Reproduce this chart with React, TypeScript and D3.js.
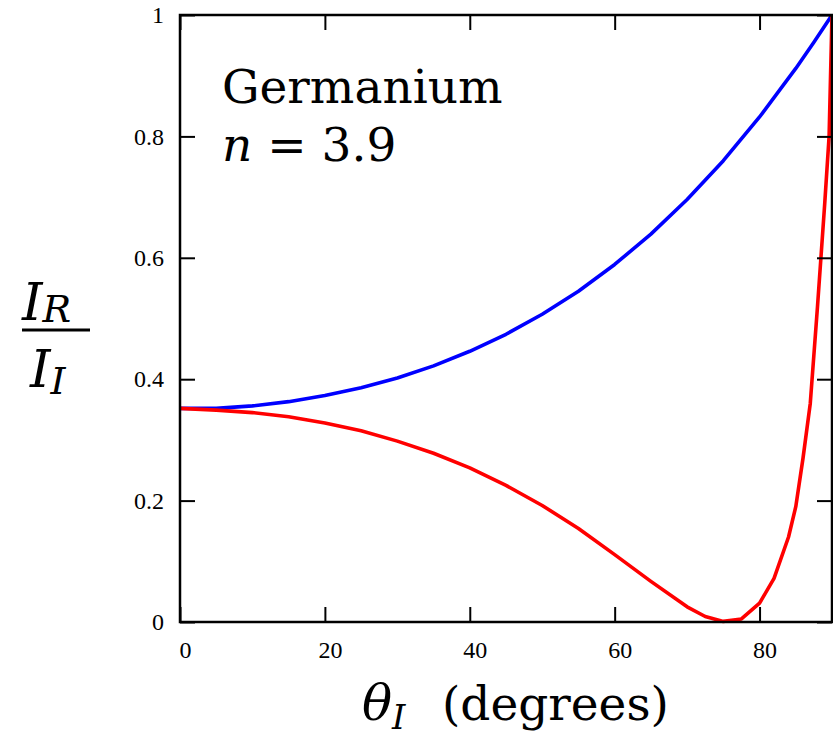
import React, { useRef, useEffect } from 'react';
import * as d3 from 'd3';

// s-polarised reflectance (blue)
const blueAngles = [0, 5, 10, 15, 20, 25, 30, 35, 40, 45, 50, 55, 60, 65, 70, 75, 80, 85, 87.5, 90];
const blueValues = [0.352, 0.352, 0.356, 0.363, 0.373, 0.386, 0.402, 0.422, 0.446, 0.474, 0.507, 0.545, 0.589, 0.639, 0.696, 0.76, 0.832, 0.912, 0.955, 1.0];

// p-polarised reflectance (red)
const redAngles = [0, 5, 10, 15, 20, 25, 30, 35, 40, 45, 50, 55, 60, 65, 70, 72.5, 75, 77.5, 80, 82, 84, 85, 86, 87, 88, 89, 89.6, 90];
const redValues = [0.352, 0.349, 0.345, 0.338, 0.328, 0.315, 0.298, 0.278, 0.254, 0.225, 0.192, 0.154, 0.111, 0.067, 0.025, 0.009, 0.001, 0.005, 0.031, 0.072, 0.14, 0.19, 0.27, 0.36, 0.52, 0.69, 0.8, 1.0];

const xTicks = [0, 20, 40, 60, 80];
const yTicks = [0, 0.2, 0.4, 0.6, 0.8, 1];

const FONT = 'DejaVu Serif';
const TICK_FONT = 'Liberation Serif';

const App = () => {
  const chartRef = useRef(null);

  useEffect(() => {
    const left = 180;
    const right = 832;
    const top = 15;
    const bottom = 622;

    const svg = d3.select(chartRef.current);
    svg.selectAll('*').remove();

    const x = d3.scaleLinear().domain([0, 90]).range([left, right]);
    const y = d3.scaleLinear().domain([0, 1]).range([bottom, top]);

    // curves
    const line = d3.line<[number, number]>()
      .x(d => x(d[0]))
      .y(d => y(d[1]));

    const series = [
      { angles: blueAngles, values: blueValues, color: '#0000ff' },
      { angles: redAngles, values: redValues, color: '#ff0000' },
    ];
    series.forEach(s => {
      svg.append('path')
        .datum(s.angles.map((a, i) => [a, s.values[i]] as [number, number]))
        .attr('d', line)
        .attr('fill', 'none')
        .attr('stroke', s.color)
        .attr('stroke-width', 3.6)
        .attr('stroke-linejoin', 'round');
    });

    // inward ticks on all four sides
    const bottomAxis = svg.append('g')
      .attr('transform', `translate(0,${bottom})`)
      .call(d3.axisBottom(x).tickValues(xTicks).tickSize(-15).tickPadding(19).tickFormat(d3.format('d')));
    bottomAxis.selectAll('text').attr('dx', 5);

    svg.append('g')
      .attr('transform', `translate(0,${top})`)
      .call(d3.axisTop(x).tickValues(xTicks).tickSize(-15).tickFormat(() => ''));

    svg.append('g')
      .attr('transform', `translate(${left},0)`)
      .call(d3.axisLeft(y).tickValues(yTicks).tickSize(-15).tickPadding(16).tickFormat(d => `${d}`));

    svg.append('g')
      .attr('transform', `translate(${right},0)`)
      .call(d3.axisRight(y).tickValues(yTicks).tickSize(-15).tickFormat(() => ''));

    svg.selectAll('.domain').remove();
    svg.selectAll('.tick line').attr('stroke', '#000').attr('stroke-width', 2);
    svg.selectAll('.tick text')
      .attr('fill', '#000')
      .attr('font-family', TICK_FONT)
      .attr('font-size', 24);

    // frame
    svg.append('rect')
      .attr('x', left)
      .attr('y', top)
      .attr('width', right - left)
      .attr('height', bottom - top)
      .attr('fill', 'none')
      .attr('stroke', '#000')
      .attr('stroke-width', 2.5);

    // annotation
    svg.append('text')
      .attr('x', 222)
      .attr('y', 103)
      .style('font-family', FONT)
      .style('font-size', '47px')
      .text('Germanium');

    const nText = svg.append('text')
      .attr('x', 222)
      .attr('y', 161)
      .style('font-family', FONT)
      .style('font-size', '47px');
    nText.append('tspan').style('font-style', 'italic').text('n');
    nText.append('tspan').text(' = 3.9');

    // y label as a fraction
    const num = svg.append('text')
      .attr('x', 22)
      .attr('y', 320)
      .style('font-family', FONT)
      .style('font-size', '52px')
      .style('font-style', 'italic');
    num.append('tspan').text('I');
    num.append('tspan').attr('dy', 2).style('font-size', '38px').text('R');

    svg.append('line')
      .attr('x1', 22)
      .attr('x2', 90)
      .attr('y1', 330)
      .attr('y2', 330)
      .attr('stroke', '#000')
      .attr('stroke-width', 3);

    const den = svg.append('text')
      .attr('x', 30)
      .attr('y', 387)
      .style('font-family', FONT)
      .style('font-size', '52px')
      .style('font-style', 'italic');
    den.append('tspan').text('I');
    den.append('tspan').attr('dy', 7).style('font-size', '38px').text('I');

    // x label
    const xl = svg.append('text')
      .attr('x', 362)
      .attr('y', 720)
      .style('font-family', FONT)
      .style('font-size', '50px');
    xl.append('tspan').style('font-style', 'italic').text('θ');
    xl.append('tspan').attr('dy', 9).style('font-style', 'italic').style('font-size', '34px').text('I');
    xl.append('tspan').attr('x', 442).attr('dy', -9).style('font-size', '47px').text('(degrees)');
  }, []);

  return (
    <svg
      ref={chartRef}
      width={833}
      height={739}
      style={{ position: 'absolute', left: 0, top: 0, background: '#fff' }}
    />
  );
};

export default App;
